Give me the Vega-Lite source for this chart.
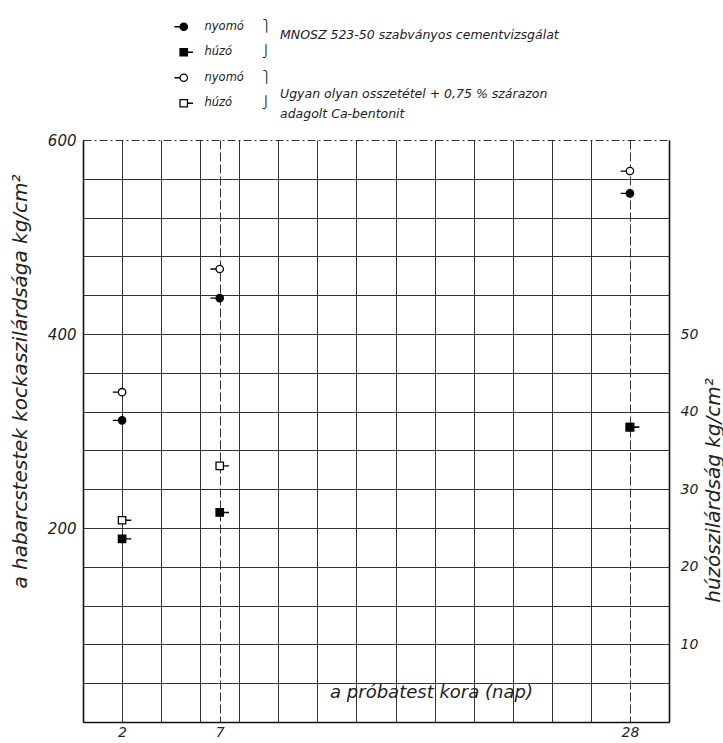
{
  "$schema": "https://vega.github.io/schema/vega-lite/v6.json",
  "width": 586,
  "height": 582,
  "autosize": {"type": "none"},
  "padding": {"left": 83, "top": 140, "right": 54, "bottom": 21},
  "background": "white",
  "config": {
    "view": {"stroke": null},
    "font": "DejaVu Sans",
    "axis": {
      "labelFont": "DejaVu Sans", "labelFontStyle": "italic", "labelFontSize": 15, "labelColor": "#222",
      "titleFont": "DejaVu Sans", "titleFontStyle": "italic", "titleFontWeight": "normal", "titleFontSize": 20, "titleColor": "#222",
      "domainColor": "#111", "domainWidth": 1.6, "gridColor": "#333", "gridWidth": 1, "gridOpacity": 1, "ticks": false,
      "labelOverlap": false, "tickCount": 100
    },
    "legend": {
      "orient": "none", "legendX": 95, "legendY": -119, "direction": "vertical",
      "labelFont": "DejaVu Sans", "labelFontStyle": "italic", "labelFontSize": 11.5, "labelColor": "#222",
      "symbolStrokeColor": "black", "symbolStrokeWidth": 1.3, "symbolSize": 55,
      "rowPadding": 11.5, "labelOffset": 15, "padding": 0
    }
  },
  "title": {
    "text": "MNOSZ 523-50 szabványos cementvizsgálat",
    "subtitle": ["Ugyan olyan osszetétel + 0,75 % szárazon", "adagolt Ca-bentonit"],
    "anchor": "start", "frame": "group", "dx": 197, "dy": 126, "lineHeight": 20.8, "baseline": "top",
    "font": "DejaVu Sans", "fontSize": 12.5, "fontStyle": "italic", "fontWeight": "normal", "color": "#222", "offset": 26,
    "subtitleFont": "DejaVu Sans", "subtitleFontSize": 12.5, "subtitleFontStyle": "italic", "subtitleFontWeight": "normal",
    "subtitleColor": "#222", "subtitleLineHeight": 20.8, "subtitlePadding": 46
  },
  "datasets": {
    "nyomo": [
      {"day": 2, "series": "MNOSZ nyomó", "strength": 311},
      {"day": 7, "series": "MNOSZ nyomó", "strength": 437},
      {"day": 28, "series": "MNOSZ nyomó", "strength": 545},
      {"day": 2, "series": "bentonit nyomó", "strength": 340},
      {"day": 7, "series": "bentonit nyomó", "strength": 467},
      {"day": 28, "series": "bentonit nyomó", "strength": 568}
    ],
    "huzo": [
      {"day": 2, "series": "MNOSZ húzó", "strength": 23.6},
      {"day": 7, "series": "MNOSZ húzó", "strength": 27},
      {"day": 28, "series": "MNOSZ húzó", "strength": 38},
      {"day": 2, "series": "bentonit húzó", "strength": 26},
      {"day": 7, "series": "bentonit húzó", "strength": 33},
      {"day": 28, "series": "bentonit húzó", "strength": 38}
    ]
  },
  "encoding": {
    "x": {
      "field": "day", "type": "quantitative",
      "scale": {"domain": [0, 30], "nice": false, "zero": false},
      "axis": {
        "values": [0, 2, 4, 6, 7, 8, 10, 12, 14, 16, 18, 20, 22, 24, 26, 28, 30],
        "format": "d",
        "labelExpr": "datum.value == 2 || datum.value == 7 || datum.value == 28 ? datum.label : ''",
        "labelFontSize": 14,
        "grid": true,
        "gridDash": {"condition": {"test": "datum.value == 7 || datum.value == 28", "value": [9, 3]}, "value": []},
        "labelPadding": 3,
        "title": "a próbatest kora (nap)",
        "titleFontSize": 18,
        "titleX": 348, "titleY": -30, "titleAlign": "center", "titleBaseline": "middle"
      }
    }
  },
  "layer": [
    {
      "layer": [
        {
          "data": {"name": "nyomo"},
          "mark": {"type": "point", "filled": true, "strokeWidth": 1.3, "size": 55, "opacity": 1},
          "encoding": {
            "y": {
              "field": "strength", "type": "quantitative",
              "scale": {"domain": [0, 600], "nice": false},
              "axis": {
                "values": [0, 40, 80, 120, 160, 200, 240, 280, 320, 360, 400, 440, 480, 520, 560, 600],
                "labelExpr": "datum.value == 200 || datum.value == 400 || datum.value == 600 ? datum.label : ''",
                "grid": true,
                "gridDash": {"condition": {"test": "datum.value == 600", "value": [8, 3, 2, 3]}, "value": {"condition": {"test": "datum.value == 560", "value": [9, 6]}, "value": []}},
                "labelPadding": 7,
                "title": "a habarcstestek kockaszilárdsága kg/cm²",
                "titleX": -63, "titleY": 241, "titleAlign": "center", "titleBaseline": "middle", "titleAngle": 270
              }
            },
            "shape": {
              "field": "series", "type": "nominal",
              "scale": {
                "domain": ["MNOSZ nyomó", "MNOSZ húzó", "bentonit nyomó", "bentonit húzó"],
                "range": [
                  "M-2.5,0L-1,0M1,0A1,1,0,1,1,-1,0A1,1,0,1,1,1,0Z",
                  "M-1,-1L1,-1L1,1L-1,1ZM1,0L2.5,0",
                  "M-2.5,0L-1,0M1,0A1,1,0,1,1,-1,0A1,1,0,1,1,1,0Z",
                  "M-1,-1L1,-1L1,1L-1,1ZM1,0L2.5,0"
                ]
              },
              "legend": {
                "title": null,
                "labelExpr": "datum.label == 'MNOSZ nyomó' || datum.label == 'bentonit nyomó' ? 'nyomó\u00a0\u00a0\u00a0\u00a0\u00a0⎫' : 'húzó\u00a0\u00a0\u00a0\u00a0\u00a0\u00a0\u00a0\u00a0⎭'"
              }
            },
            "fill": {
              "field": "series", "type": "nominal",
              "scale": {
                "domain": ["MNOSZ nyomó", "MNOSZ húzó", "bentonit nyomó", "bentonit húzó"],
                "range": ["black", "black", "white", "white"]
              },
              "legend": {
                "title": null,
                "labelExpr": "datum.label == 'MNOSZ nyomó' || datum.label == 'bentonit nyomó' ? 'nyomó\u00a0\u00a0\u00a0\u00a0\u00a0⎫' : 'húzó\u00a0\u00a0\u00a0\u00a0\u00a0\u00a0\u00a0\u00a0⎭'"
              }
            },
            "stroke": {
              "field": "series", "type": "nominal",
              "scale": {
                "domain": ["MNOSZ nyomó", "MNOSZ húzó", "bentonit nyomó", "bentonit húzó"],
                "range": ["black", "black", "black", "black"]
              },
              "legend": {
                "title": null,
                "labelExpr": "datum.label == 'MNOSZ nyomó' || datum.label == 'bentonit nyomó' ? 'nyomó\u00a0\u00a0\u00a0\u00a0\u00a0⎫' : 'húzó\u00a0\u00a0\u00a0\u00a0\u00a0\u00a0\u00a0\u00a0⎭'"
              }
            }
          }
        },
        {
          "data": {"values": [{}]},
          "mark": {"type": "rule", "color": "#111", "strokeWidth": 1.6},
          "encoding": {"x": {"datum": 0}, "y": {"datum": 600}, "y2": {"datum": 636}}
        },
        {
          "data": {"values": [{}]},
          "mark": {"type": "rule", "color": "#111", "strokeWidth": 1.6},
          "encoding": {"x": {"datum": 30}, "y": {"datum": 600}, "y2": {"datum": 636}}
        },
        {
          "data": {"values": [{}]},
          "mark": {"type": "rule", "color": "#111", "strokeWidth": 1.6},
          "encoding": {"x": {"datum": 30}, "x2": {"datum": 31.8}, "y": {"datum": 0}}
        },
        {
          "data": {"values": [{}]},
          "mark": {"type": "point", "shape": "M0,-1L-0.35,0.8L0.35,0.8Z", "filled": true, "color": "#111", "size": 196, "opacity": 1},
          "encoding": {"x": {"datum": 0}, "y": {"datum": 636}}
        },
        {
          "data": {"values": [{}]},
          "mark": {"type": "point", "shape": "M0,-1L-0.35,0.8L0.35,0.8Z", "filled": true, "color": "#111", "size": 196, "opacity": 1},
          "encoding": {"x": {"datum": 30}, "y": {"datum": 636}}
        },
        {
          "data": {"values": [{}]},
          "mark": {"type": "point", "shape": "M1,0L-0.8,-0.35L-0.8,0.35Z", "filled": true, "color": "#111", "size": 196, "opacity": 1},
          "encoding": {"x": {"datum": 31.6}, "y": {"datum": 0}}
        }
      ]
    },
    {
      "data": {"name": "huzo"},
      "encoding": {
        "y": {
          "field": "strength", "type": "quantitative",
          "scale": {"domain": [0, 75], "nice": false},
          "axis": {
            "orient": "right", "values": [10, 20, 30, 40, 50], "grid": false, "labelPadding": 11, "labelFontSize": 14,
            "title": "húzószilárdság kg/cm²",
            "titleX": 44, "titleY": 350, "titleAlign": "center", "titleBaseline": "middle", "titleAngle": 270
          }
        },
        "shape": {"field": "series", "type": "nominal", "legend": null},
        "fill": {"field": "series", "type": "nominal", "legend": null},
        "stroke": {"field": "series", "type": "nominal", "legend": null}
      },
      "layer": [
        {
          "transform": [{"filter": "datum.day != 28"}],
          "mark": {"type": "point", "filled": true, "strokeWidth": 1.3, "size": 55, "opacity": 1}
        },
        {
          "transform": [{"filter": "datum.day == 28 && datum.series == 'bentonit húzó'"}],
          "mark": {"type": "point", "filled": true, "strokeWidth": 1.3, "size": 55, "opacity": 1, "dx": -5}
        },
        {
          "transform": [{"filter": "datum.day == 28 && datum.series == 'MNOSZ húzó'"}],
          "mark": {"type": "point", "filled": true, "strokeWidth": 1.3, "size": 55, "opacity": 1, "dx": 7}
        }
      ]
    }
  ],
  "resolve": {"scale": {"y": "independent"}}
}
